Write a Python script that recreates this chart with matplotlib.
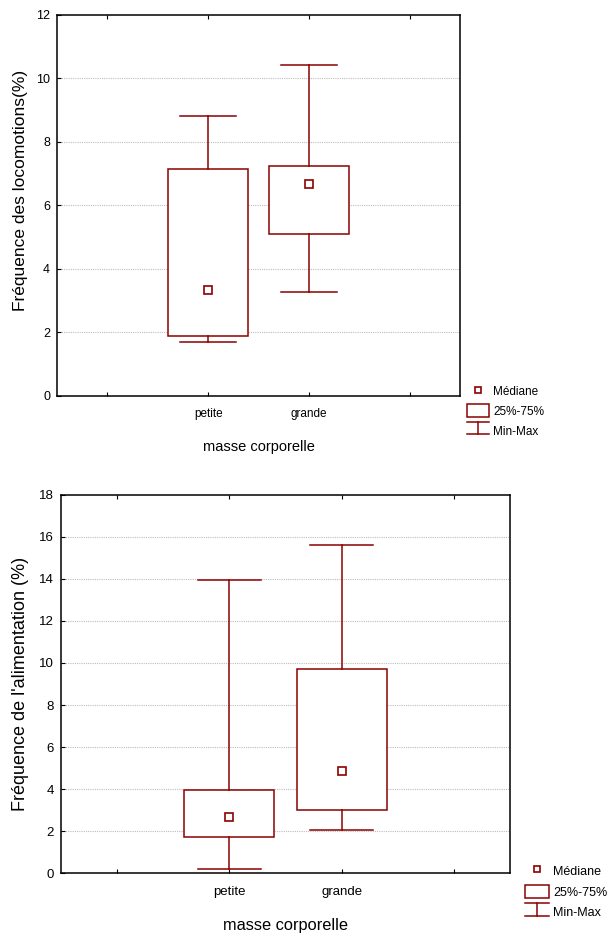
import matplotlib
matplotlib.use("Agg")
import matplotlib.pyplot as plt
from matplotlib.lines import Line2D
from matplotlib.patches import Patch
from matplotlib.legend_handler import HandlerBase

plt.rcParams['font.family'] = ['Liberation Sans', 'DejaVu Sans']

RED = '#8b0000'

cats = ['petite', 'grande']

# locomotion frequency (%)
loco_min = [1.69, 3.28]
loco_q1 = [1.89, 5.10]
loco_med = [3.33, 6.67]
loco_q3 = [7.16, 7.25]
loco_max = [8.82, 10.43]

# feeding frequency (%)
alim_min = [0.17, 2.03]
alim_q1 = [1.73, 2.98]
alim_med = [2.65, 4.87]
alim_q3 = [3.95, 9.70]
alim_max = [13.95, 15.64]


class IBeam(HandlerBase):
    # legend glyph for Min-Max
    def create_artists(self, legend, orig, xd, yd, w, h, fontsize, trans):
        x0, x1 = xd, xd + w
        cx = xd + w / 2
        y0, y1 = yd - 0.15 * h, yd + h * 0.8
        kw = dict(color=RED, lw=1.1, transform=trans)
        return [Line2D([x0, x1], [y1, y1], **kw),
                Line2D([cx, cx], [y0, y1], **kw),
                Line2D([x0, x1], [y0, y0], **kw)]


def draw(ax, mins, q1, med, q3, maxs, ymax, ylabel, fs):
    pos = [1, 2]
    stats = []
    for i in range(len(cats)):
        stats.append(dict(whislo=mins[i], q1=q1[i], med=med[i],
                          q3=q3[i], whishi=maxs[i], label=cats[i]))
    lp = dict(color=RED, lw=1.1)
    ax.bxp(stats, positions=pos, widths=0.8, capwidths=0.56,
           showfliers=False, patch_artist=True,
           boxprops=dict(facecolor='white', edgecolor=RED, lw=1.1),
           whiskerprops=lp, capprops=lp,
           medianprops=dict(visible=False), zorder=3)
    ax.plot(pos, med, ls='none', marker='s', ms=5.5, mfc='white',
            mec=RED, mew=1.2, zorder=4)

    ax.set_xlim(-0.5, 3.5)
    ax.set_xticks([0, 1, 2, 3])
    ax.set_xticklabels(['', cats[0], cats[1], ''], fontsize=fs['cat'])
    ax.set_ylim(0, ymax)
    ax.set_yticks(range(0, ymax + 1, 2))
    ax.tick_params(axis='y', labelsize=fs['tick'], direction='in',
                   length=3, pad=5)
    ax.tick_params(axis='x', direction='in', length=3, pad=9, top=True)
    for v in range(2, ymax, 2):
        ax.axhline(v, color='#bdbdbd', lw=0.8, ls=(0, (1, 1)), zorder=1)
    for s in ax.spines.values():
        s.set_linewidth(1.1)
    ax.set_xlabel('masse corporelle', fontsize=fs['xl'], labelpad=fs['xlpad'])
    ax.set_ylabel(ylabel, fontsize=fs['yl'])
    ax.yaxis.set_label_coords(fs['ylx'], fs['yly'])


fig = plt.figure(figsize=(6.09, 9.35), dpi=100)

ax1 = fig.add_axes([0.0936, 0.5765, 0.6617, 0.4075])
draw(ax1, loco_min, loco_q1, loco_med, loco_q3, loco_max, 12,
     'Fréquence des locomotions(%)',
     dict(cat=8.5, tick=9, xl=10.5, yl=12.5, xlpad=14, ylx=-0.072, yly=0.54))

ax2 = fig.add_axes([0.1002, 0.0663, 0.7372, 0.4043])
draw(ax2, alim_min, alim_q1, alim_med, alim_q3, alim_max, 18,
     "Fréquence de l'alimentation (%)",
     dict(cat=9.5, tick=9.5, xl=11.8, yl=13, xlpad=15, ylx=-0.071, yly=0.5))

handles = [Line2D([], [], ls='none', marker='s', ms=5, mfc='white',
                  mec=RED, mew=1.2),
           Patch(facecolor='white', edgecolor=RED, lw=1.1),
           'minmax']
labels = ['Médiane', '25%-75%', 'Min-Max']

for ax, anchor, fsz in [(ax1, (0.757, 0.5950), 8.5),
                        (ax2, (0.852, 0.0830), 9)]:
    ax.legend(handles, labels, loc='upper left', bbox_to_anchor=anchor,
              bbox_transform=fig.transFigure, frameon=False, fontsize=fsz,
              borderpad=0, handlelength=1.9, handleheight=1.3,
              labelspacing=0.55, handletextpad=0.35,
              handler_map={str: IBeam()})

fig.savefig('out.png', dpi=100)
